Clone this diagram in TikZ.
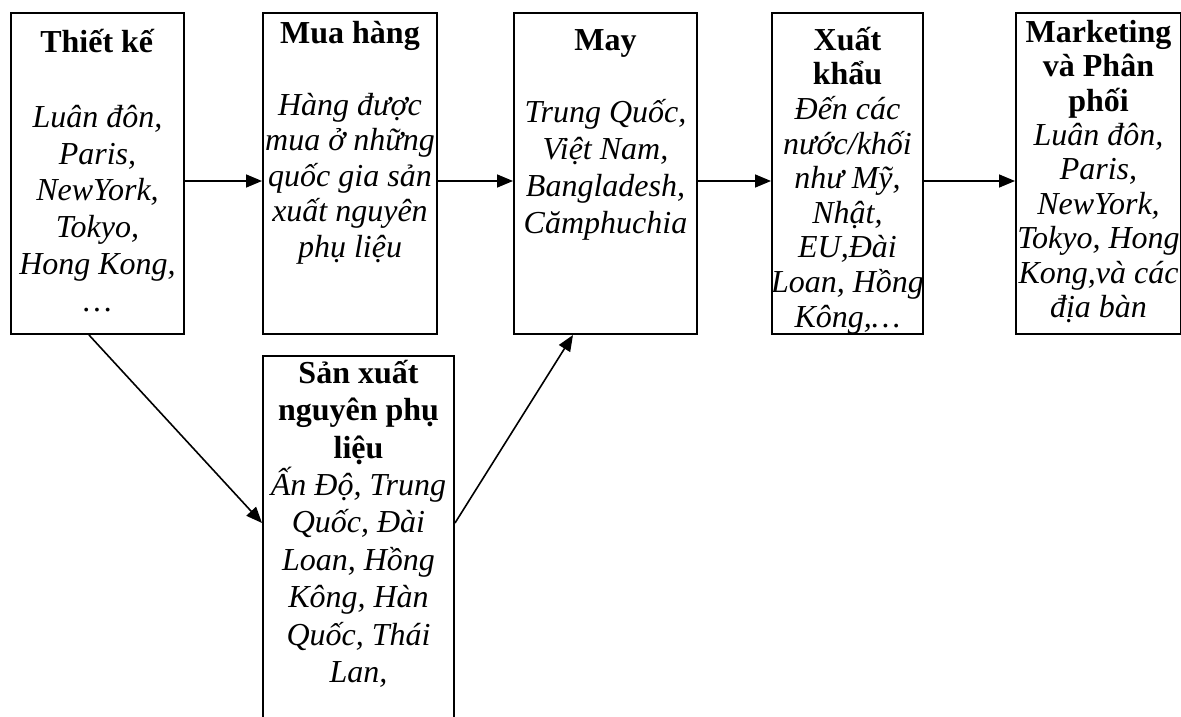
\documentclass[tikz,border=0pt]{standalone}
\usepackage{fontspec}
\setmainfont{Liberation Serif}
\usetikzlibrary{arrows.meta}
% invisible strut that fixes the top of a text block 34pt above its first baseline
\newcommand\stagelead{\rule{0pt}{34pt}}
\begin{document}
\begin{tikzpicture}[x=1pt,y=-1pt,
  stagebox/.style={draw, line width=2pt, anchor=north west, inner sep=0pt},
  stagetext/.style={anchor=north, align=center, inner sep=0pt,
    font=\fontsize{32}{#1}\selectfont},
  flow/.style={line width=1.6pt, -{Triangle[length=16pt,width=13pt]}}]
\useasboundingbox (0,0) rectangle (1181,717);
\clip (0,0) rectangle (1181,717);

% stage frames
\node[stagebox, minimum width=173pt, minimum height=321pt] (b1) at (10,12) {};
\node[stagebox, minimum width=174pt, minimum height=321pt] (b2) at (262,12) {};
\node[stagebox, minimum width=183pt, minimum height=321pt] (b3) at (513,12) {};
\node[stagebox, minimum width=151pt, minimum height=321pt] (b4) at (771,12) {};
\node[stagebox, minimum width=165pt, minimum height=321pt] (b5) at (1015,12) {};
\node[stagebox, minimum width=191pt, minimum height=400pt] (b6) at (262,355) {};

% stage texts (first baseline = yshift + 34pt below the frame top)
\node[stagetext=36.8] (t1h) at ([yshift=-6pt]b1.north) {\stagelead\textbf{Thiết kế}};
\node[stagetext=36.8] (t1b) at ([yshift=-81pt]b1.north)
  {\stagelead\textit{Luân đôn,}\\\textit{Paris,}\\\textit{NewYork,}\\\textit{Tokyo,}\\\textit{Hong Kong,}\\\textit{…}};

\node[stagetext=35.5] (t2h) at ([yshift=3pt]b2.north) {\stagelead\textbf{Mua hàng}};
\node[stagetext=35.5] (t2b) at ([yshift=-69pt]b2.north)
  {\stagelead\textit{Hàng được}\\\textit{mua ở những}\\\textit{quốc gia sản}\\\textit{xuất nguyên}\\\textit{phụ liệu}};

\node[stagetext=37] (t3h) at ([yshift=-4pt]b3.north) {\stagelead\textbf{May}};
\node[stagetext=37] (t3b) at ([yshift=-76pt]b3.north)
  {\stagelead\textit{Trung Quốc,}\\\textit{Việt Nam,}\\\textit{Bangladesh,}\\\textit{Cămphuchia}};

\begin{scope}
  \clip (b4.north west) rectangle (b4.south east);
  \node[stagetext=34.6] (t4) at ([yshift=-4pt]b4.north)
    {\stagelead\textbf{Xuất}\\\textbf{khẩu}\\\textit{Đến các}\\\textit{nước/khối}\\\textit{như Mỹ,}\\\textit{Nhật,}\\\textit{EU,Đài}\\\textit{Loan, Hồng}\\\textit{Kông,…}};
\end{scope}

\node[stagetext=34.4] (t5) at ([yshift=4pt]b5.north)
  {\stagelead\textbf{Marketing}\\\textbf{và Phân}\\\textbf{phối}\\\textit{Luân đôn,}\\\textit{Paris,}\\\textit{NewYork,}\\\textit{Tokyo, Hong}\\\textit{Kong,và các}\\\textit{địa bàn}};

\node[stagetext=37.4] (t6) at ([yshift=6pt]b6.north)
  {\stagelead\textbf{Sản xuất}\\\textbf{nguyên phụ}\\\textbf{liệu}\\\textit{Ấn Độ, Trung}\\\textit{Quốc, Đài}\\\textit{Loan, Hồng}\\\textit{Kông, Hàn}\\\textit{Quốc, Thái}\\\textit{Lan,}};

% connectors
\draw[flow] ([yshift=-7.5pt]b1.east) -- ([yshift=-7.5pt]b2.west);
\draw[flow] ([yshift=-7.5pt]b2.east) -- ([yshift=-7.5pt]b3.west);
\draw[flow] ([yshift=-7.5pt]b3.east) -- ([yshift=-7.5pt]b4.west);
\draw[flow] ([yshift=-7.5pt]b4.east) -- ([yshift=-7.5pt]b5.west);
\draw[flow] ([xshift=79pt]b1.south west) -- ([yshift=-168pt]b6.north west);
\draw[flow] ([yshift=-168pt]b6.north east) -- ([xshift=60pt]b3.south west);
\end{tikzpicture}
\end{document}
